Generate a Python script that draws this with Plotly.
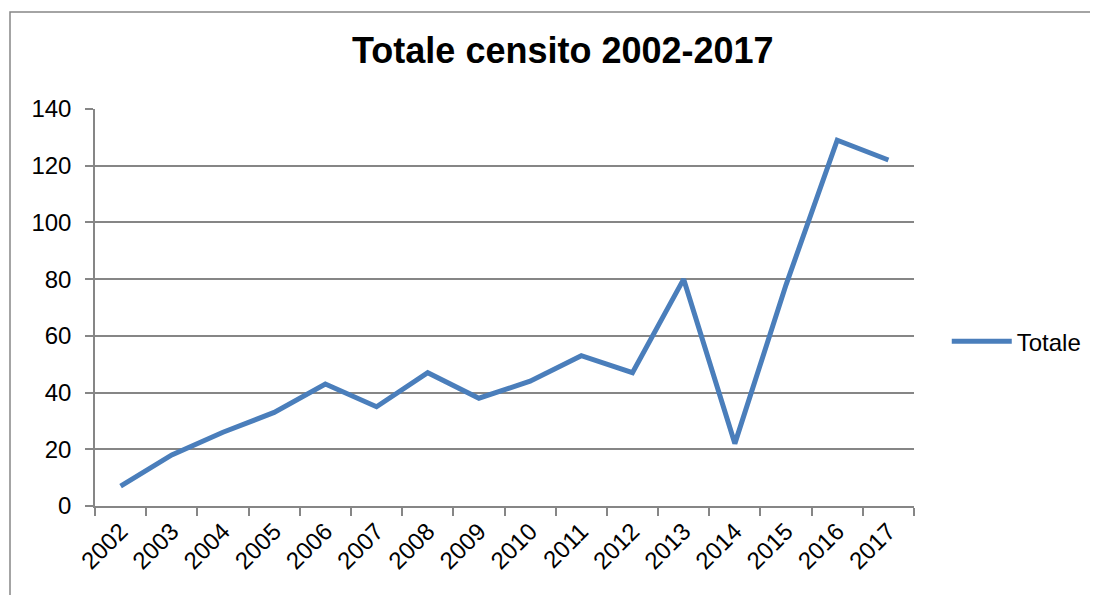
import plotly.graph_objects as go

# Data
years = [str(y) for y in range(2002, 2018)]
totale = [7, 18, 26, 33, 43, 35, 47, 38, 44, 53, 47, 80, 22, 78, 129, 122]
y_ticks = [0, 20, 40, 60, 80, 100, 120, 140]

LINE_BLUE = "#4a7ebb"
GRID_GRAY = "#868686"
FONT = "Liberation Sans, Arial, sans-serif"

# the page body has an 8px margin, so the figure is a bit smaller than the window
W, H = 1090, 587
M_L, M_R, M_T, M_B = 87, 184, 101, 89

fig = go.Figure()
fig.add_trace(go.Scatter(
    x=years, y=totale, mode="lines", name="Totale",
    line=dict(color=LINE_BLUE, width=5),
))

fig.update_layout(
    width=W, height=H,
    margin=dict(l=M_L, r=M_R, t=M_T, b=M_B, autoexpand=False),
    paper_bgcolor="white", plot_bgcolor="white",
    font=dict(family=FONT, size=24, color="black"),
    title=dict(
        text="<b>Totale censito 2002-2017</b>",
        x=0.509, xanchor="center", y=0.928, yanchor="middle",
        font=dict(family=FONT, size=36, color="black"),
    ),
    showlegend=True,
    legend=dict(
        x=1.04, xanchor="left", y=0.414, yanchor="middle",
        font=dict(size=24), itemwidth=60, bgcolor="rgba(0,0,0,0)",
    ),
)

fig.update_xaxes(
    type="category", range=[-0.5, len(years) - 0.5],
    tickson="boundaries", ticks="outside", ticklen=8, tickwidth=1.5,
    tickcolor=GRID_GRAY, showline=True, linecolor=GRID_GRAY, linewidth=1.5,
    showgrid=False, tickangle=-45, tickfont=dict(size=24),
)
fig.update_yaxes(
    range=[0, 140], tickvals=y_ticks, ticks="outside", ticklen=8,
    tickwidth=1.5, tickcolor=GRID_GRAY, showline=True, linecolor=GRID_GRAY,
    linewidth=1.5, showgrid=True, gridcolor=GRID_GRAY, gridwidth=1.5,
    zeroline=False, tickfont=dict(size=24), ticklabelstandoff=9,
)

# outer chart frame (Excel style), runs off the right and bottom edges
pw, ph = W - M_L - M_R, H - M_T - M_B
fig.add_shape(
    type="rect", xref="paper", yref="paper",
    x0=(2 - M_L) / pw, x1=(W + 20 - M_L) / pw,
    y0=-(M_B + 20) / ph, y1=(H - M_B - 4) / ph,
    line=dict(color=GRID_GRAY, width=1.5), fillcolor="rgba(0,0,0,0)",
    layer="below",
)

fig.write_html("out.html")
